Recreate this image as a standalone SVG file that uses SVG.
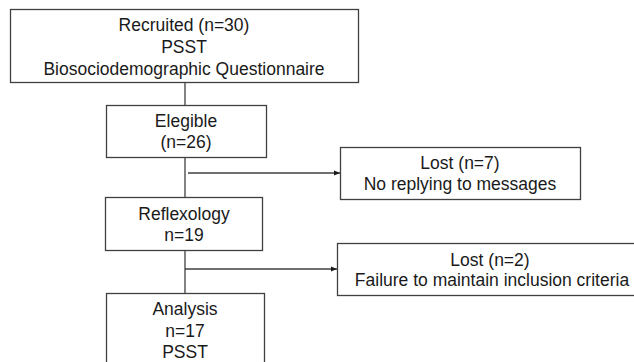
<svg xmlns="http://www.w3.org/2000/svg" width="634" height="362" viewBox="0 0 634 362">
  <defs>
    <style>
      .box { fill: #ffffff; stroke: #404040; stroke-width: 1.3; }
      .txt { font-family: "Liberation Sans", Arial, sans-serif; font-size: 17.5px; fill: #1a1a1a; text-anchor: middle; }
      .conn { stroke: #404040; stroke-width: 1.3; fill: none; }
    </style>
    <marker id="arrow" viewBox="0 0 10 10" refX="10" refY="5" markerWidth="6" markerHeight="6" markerUnits="userSpaceOnUse" orient="auto">
      <path d="M0,1 L10,5 L0,9 Z" fill="#1a1a1a"/>
    </marker>
  </defs>
  <rect width="634" height="362" fill="#ffffff"/>

  <g id="connectors">
    <line class="conn" x1="185" y1="82" x2="185" y2="105"/>
    <line class="conn" x1="185" y1="157" x2="185" y2="197"/>
    <line class="conn" x1="188" y1="173" x2="340" y2="173" marker-end="url(#arrow)"/>
    <line class="conn" x1="185" y1="250" x2="185" y2="293"/>
    <line class="conn" x1="185" y1="269" x2="337" y2="269" marker-end="url(#arrow)"/>
  </g>

  <g id="recruited">
    <rect class="box" x="10.5" y="9.5" width="348" height="73"/>
    <text class="txt" x="184" y="31">Recruited  (n=30)</text>
    <text class="txt" x="184" y="53">PSST</text>
    <text class="txt" x="184" y="75">Biosociodemographic Questionnaire</text>
  </g>

  <g id="elegible">
    <rect class="box" x="106.5" y="105.5" width="160" height="52"/>
    <text class="txt" x="186" y="127">Elegible</text>
    <text class="txt" x="186" y="148">(n=26)</text>
  </g>

  <g id="lost1">
    <rect class="box" x="340.5" y="147.5" width="240" height="52"/>
    <text class="txt" x="460" y="169">Lost (n=7)</text>
    <text class="txt" x="460" y="190">No replying to messages</text>
  </g>

  <g id="reflexology">
    <rect class="box" x="105.5" y="197.5" width="157" height="53"/>
    <text class="txt" x="184" y="220">Reflexology</text>
    <text class="txt" x="184" y="241">n=19</text>
  </g>

  <g id="lost2">
    <rect class="box" x="337.5" y="243.5" width="306" height="52"/>
    <text class="txt" x="490" y="266">Lost (n=2)</text>
    <text class="txt" x="492" y="286">Failure to maintain inclusion criteria</text>
  </g>

  <g id="analysis">
    <rect class="box" x="106.5" y="293.5" width="158" height="80"/>
    <text class="txt" x="185" y="315">Analysis</text>
    <text class="txt" x="185" y="337">n=17</text>
    <text class="txt" x="185" y="358">PSST</text>
  </g>
</svg>
